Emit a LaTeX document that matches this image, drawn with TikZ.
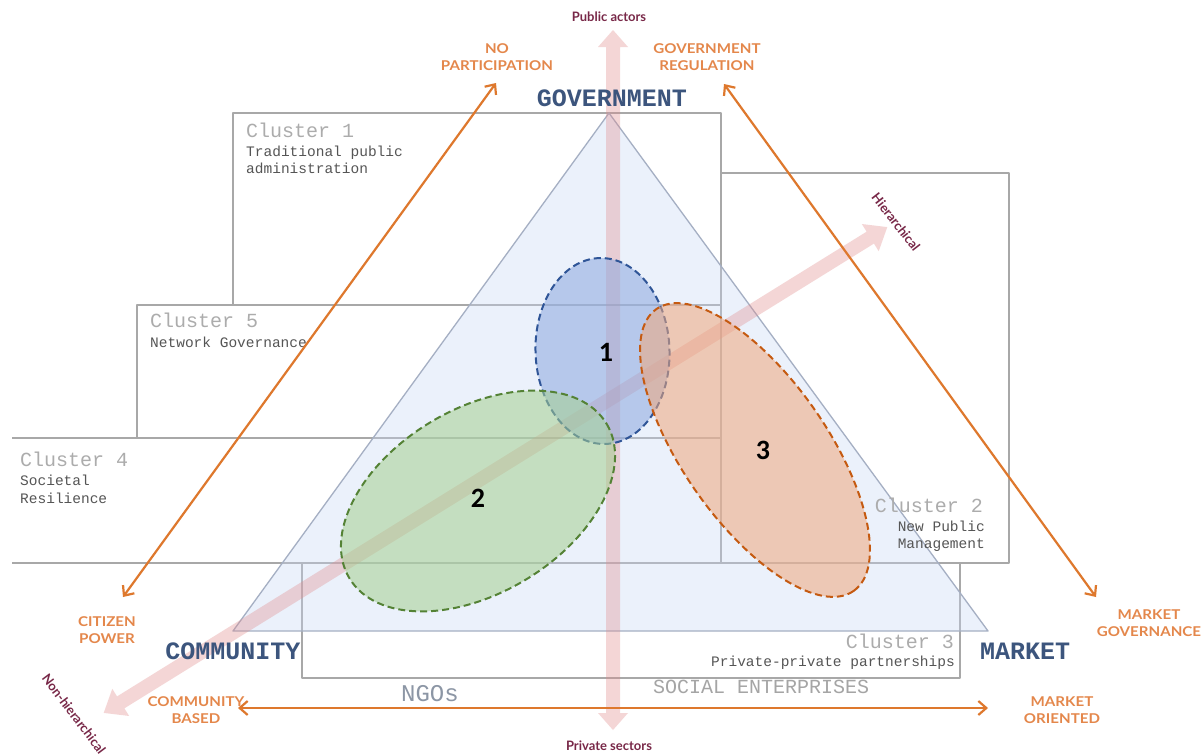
\documentclass[tikz,border=0pt]{standalone}
\usepackage{fontspec}
\setmainfont{Liberation Sans}
\newfontfamily\clfont{Liberation Mono}
\newfontfamily\lbfont[FakeStretch=1.12]{Lato}
\newfontfamily\axfont{Lato}
\newfontfamily\nmfont{Carlito}
\usetikzlibrary{arrows.meta}

\definecolor{boxgray}{RGB}{168,168,168}
\definecolor{clgray}{RGB}{172,172,172}
\definecolor{subgray}{RGB}{85,85,85}
\definecolor{tribord}{RGB}{165,175,195}
\definecolor{trifill}{RGB}{200,215,245}
\definecolor{pinkax}{RGB}{225,140,140}
\definecolor{orangeln}{RGB}{222,120,45}
\definecolor{orangetx}{RGB}{228,135,75}
\definecolor{axmaroon}{RGB}{120,40,72}
\definecolor{navy}{RGB}{60,85,125}
\definecolor{ngogray}{RGB}{140,150,165}
\definecolor{segray}{RGB}{165,165,165}
\definecolor{eonefill}{RGB}{140,168,222}
\definecolor{eoneline}{RGB}{47,85,151}
\definecolor{etwofill}{RGB}{165,208,145}
\definecolor{etwoline}{RGB}{84,130,53}
\definecolor{ethreefill}{RGB}{240,168,125}
\definecolor{ethreeline}{RGB}{197,90,17}

\tikzset{
  clbox/.style={draw=boxgray, line width=1.6pt},
  cltitle/.style={font=\clfont\fontsize{20}{20}\selectfont, text=clgray, inner sep=0pt},
  clsub/.style={font=\clfont\fontsize{14.5}{17}\selectfont, text=subgray, inner sep=0pt},
  pole/.style={font=\clfont\bfseries\fontsize{25}{25}\selectfont, text=navy, inner sep=0pt},
  oplabel/.style={font=\lbfont\bfseries\fontsize{13.5}{17}\selectfont, text=orangetx, align=center, inner sep=0pt},
  axlabel/.style={font=\axfont\bfseries\fontsize{13}{13}\selectfont, text=axmaroon, inner sep=0pt},
  oparrow/.style={draw=orangeln, line width=2.2pt, {Straight Barb[length=8pt,width=14pt]}-{Straight Barb[length=8pt,width=14pt]}},
  zone/.style={dashed, dash pattern=on 7pt off 4pt, line width=2pt, fill opacity=0.55},
  zonenum/.style={font=\nmfont\bfseries\fontsize{28}{28}\selectfont, text=black, inner sep=0pt},
  axband/.style={fill=pinkax, fill opacity=0.35}
}

\begin{document}
\begin{tikzpicture}[x=1pt, y=-1pt, line join=round]
\useasboundingbox (0,0) rectangle (1203,753);
\fill[white] (0,0) rectangle (1203,753);

% cluster frames
\draw[clbox] (233,113) rectangle (721,305);
\draw[clbox] (721,173) rectangle (1009,563);
\draw[clbox] (137,305) rectangle (721,438);
\draw[clbox] (721,438) -- (12,438);
\draw[clbox] (12,563) -- (721,563);
\draw[clbox] (302,563) rectangle (960,678);

% governance triangle
\filldraw[fill=trifill, fill opacity=0.35, draw=tribord, line width=1.3pt]
  (609,113) -- (988,631) -- (233,631) -- cycle;

% public / private axis
\begin{scope}[shift={(613,380)}, rotate=90]
  \fill[axband] (-350,0) -- (-333,15) -- (-333,7) -- (333,7) -- (333,15) -- (350,0)
    -- (333,-15) -- (333,-7) -- (-333,-7) -- (-333,-15) -- cycle;
\end{scope}
% hierarchical axis
\begin{scope}[shift={(495.5,470)}, rotate=31.8]
  \fill[axband] (-461,0) -- (-441,16) -- (-441,7) -- (441,7) -- (441,16) -- (461,0)
    -- (441,-16) -- (441,-7) -- (-441,-7) -- (-441,-16) -- cycle;
\end{scope}

% zones
\draw[zone, draw=eoneline, fill=eonefill, rotate around={2:(602.5,351)}]
  (602.5,351) ellipse [x radius=67, y radius=93];
\draw[zone, draw=etwoline, fill=etwofill, rotate around={31:(478,501)}]
  (478,501) ellipse [x radius=150, y radius=92];
\draw[zone, draw=ethreeline, fill=ethreefill, rotate around={-55:(755,450)}]
  (755,450) ellipse [x radius=172, y radius=72];
\node[zonenum] (z1) at (606,352) {1};
\node[zonenum] (z2) at (478,498) {2};
\node[zonenum] (z3) at (763,450) {3};

% cluster captions
\node[cltitle, anchor=base west] (c1) at (246,137) {Cluster 1};
\node[clsub, anchor=base west] (c1a) at (246,156) {Traditional public};
\node[clsub, anchor=base west] (c1b) at (246,173) {administration};
\node[cltitle, anchor=base west] (c5) at (150,327) {Cluster 5};
\node[clsub, anchor=base west] (c5a) at (150,347) {Network Governance};
\node[cltitle, anchor=base west] (c4) at (20,466) {Cluster 4};
\node[clsub, anchor=base west] (c4a) at (20,485) {Societal};
\node[clsub, anchor=base west] (c4b) at (20,503) {Resilience};
\node[cltitle, anchor=base east] (c2) at (983,512) {Cluster 2};
\node[clsub, anchor=base east] (c2a) at (985,531) {New Public};
\node[clsub, anchor=base east] (c2b) at (985,548) {Management};
\node[cltitle, anchor=base east] (c3) at (954,648) {Cluster 3};
\node[clsub, anchor=base east] (c3a) at (955,666) {Private-private partnerships};
\node[font=\clfont\fontsize{24}{24}\selectfont, text=ngogray, anchor=base, inner sep=0pt] (ngo) at (430,701) {NGOs};
\node[font=\clfont\fontsize{20}{20}\selectfont, text=segray, anchor=base west, inner sep=0pt] (se) at (653,693) {SOCIAL ENTERPRISES};

% poles
\node[pole, anchor=base] (gov) at (612,106) {GOVERNMENT};
\node[pole, anchor=base] (com) at (233,659) {COMMUNITY};
\node[pole, anchor=base] (mkt) at (1025,659) {MARKET};

% axis captions
\node[axlabel, anchor=base] (pub) at (609,21) {Public actors};
\node[axlabel, anchor=base] (priv) at (609,750) {Private sectors};
\node[axlabel, rotate=-52] (hier) at (896,222) {Hierarchical};
\node[axlabel, rotate=-53] (nonhier) at (74,714) {Non-hierarchical};

% participation / governance arrows
\coordinate (npTip) at (496,83);
\coordinate (cpTip) at (123,597);
\coordinate (grTip) at (724,84);
\coordinate (mgTip) at (1096,597);
\coordinate (cbTip) at (238,708);
\coordinate (moTip) at (988,708);
\draw[oparrow] (cpTip) -- (npTip);
\draw[oparrow] (grTip) -- (mgTip);
\draw[oparrow] (cbTip) -- (moTip);

\node[oplabel] (np) at (497,57) {NO\\PARTICIPATION};
\node[oplabel] (gr) at (707,57) {GOVERNMENT\\REGULATION};
\node[oplabel] (cp) at (107,630) {CITIZEN\\POWER};
\node[oplabel] (mg) at (1149,623) {MARKET\\GOVERNANCE};
\node[oplabel] (cb) at (196,710) {COMMUNITY\\BASED};
\node[oplabel] (mo) at (1062,710) {MARKET\\ORIENTED};
\end{tikzpicture}
\end{document}
